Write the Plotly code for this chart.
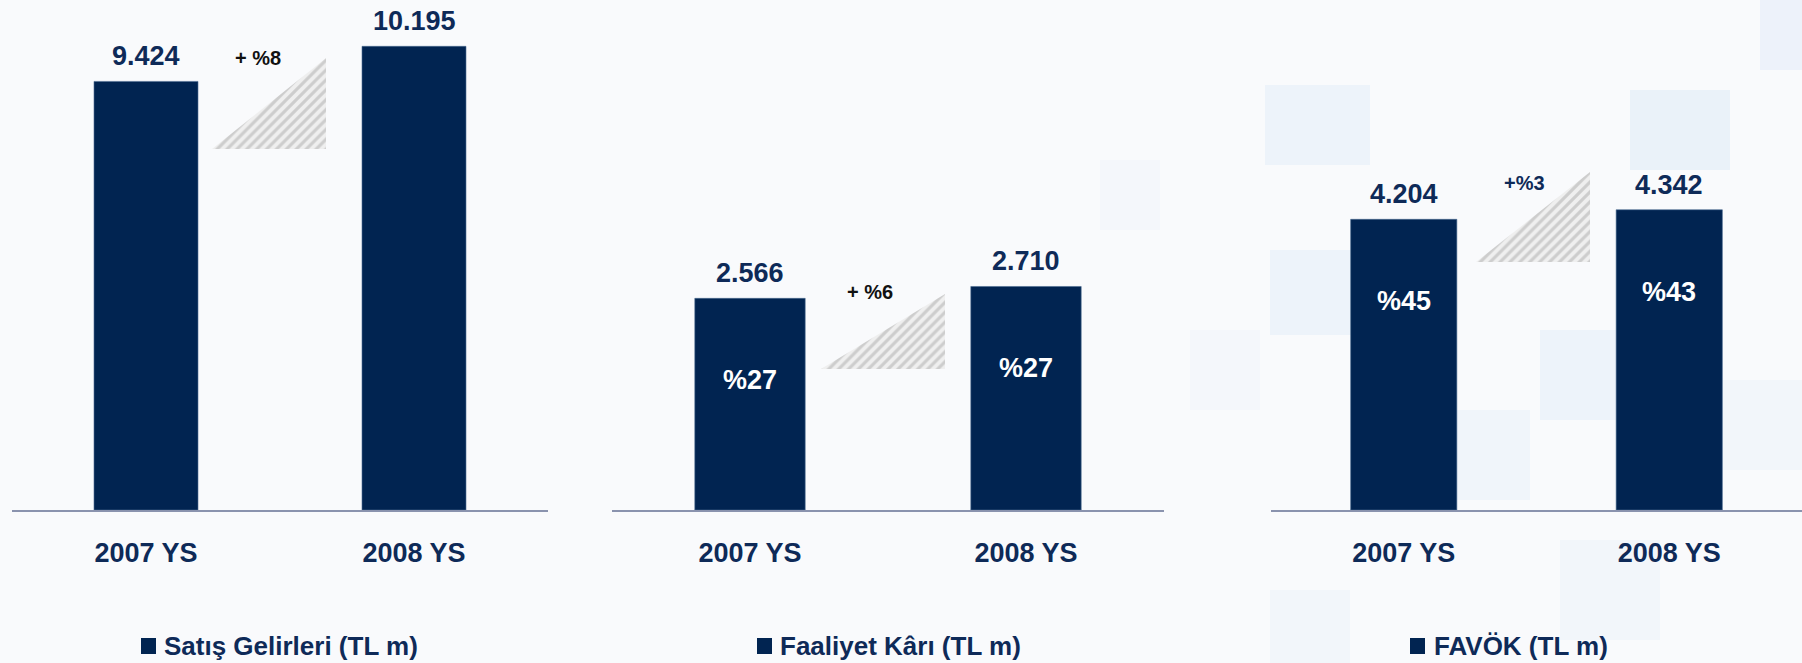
import plotly.graph_objects as go

# ---------------- data ----------------
categories = ["2007 YS", "2008 YS"]
sales = [9424, 10195]
op_profit = [2566, 2710]
ebitda = [4204, 4342]
op_margin = ["%27", "%27"]
ebitda_margin = ["%45", "%43"]
growth_labels = ["+ %8", "+ %6", "+%3"]
panel_titles = ["Satış Gelirleri (TL m)", "Faaliyet Kârı (TL m)", "FAVÖK (TL m)"]

# ---------------- style ----------------
W, H = 1802, 663
NAVY = "#012451"
TXT = "#0e2a58"
FONT = "Liberation Sans"
BASE_PX = 510  # baseline pixel row

def fmt(v):
    return f"{v:,}".replace(",", ".")

panels = [
    dict(values=sales, margins=None, x0=12, x1=548, ymax=11214, width=0.388,
         tri=(212, 326, 58, 149), glabel=(258, 58), gcolor="#111111", leg=(141, 162)),
    dict(values=op_profit, margins=op_margin, x0=612, x1=1164, ymax=6183, width=0.4,
         tri=(821, 945, 294, 369), glabel=(870, 292), gcolor="#111111", leg=(757, 778)),
    dict(values=ebitda, margins=ebitda_margin, x0=1271, x1=1803, ymax=7376, width=0.4,
         tri=(1476, 1590, 172, 262), glabel=(1524, 183), gcolor=TXT, leg=(1410, 1432)),
]

fig = go.Figure()
shapes = []
annotations = []

# faint watermark blocks in the background (decorative)
blobs = [
    (1265, 1370, 85, 165, 0.28), (1630, 1730, 90, 170, 0.38), (1270, 1360, 250, 335, 0.28),
    (1540, 1650, 330, 420, 0.28), (1410, 1530, 410, 500, 0.22), (1760, 1802, 0, 70, 0.32),
    (1100, 1160, 160, 230, 0.1), (1190, 1260, 330, 410, 0.1), (1560, 1660, 540, 640, 0.18),
    (1270, 1350, 590, 663, 0.18), (1700, 1802, 380, 470, 0.18),
]
for (bx0, bx1, by0, by1, op) in blobs:
    shapes.append(dict(type="rect", xref="paper", yref="paper", x0=bx0 / W, x1=bx1 / W,
                       y0=1 - by1 / H, y1=1 - by0 / H,
                       fillcolor=f"rgba(210,228,245,{op})", line=dict(width=0), layer="below"))

ydom0 = (H - BASE_PX) / H
for i, p in enumerate(panels):
    n = "" if i == 0 else str(i + 1)
    xa, ya = "x" + n, "y" + n
    fig.add_trace(go.Bar(
        x=categories, y=p["values"], xaxis=xa, yaxis=ya, width=p["width"],
        marker=dict(color=NAVY, line=dict(color="#4a6a90", width=0.6)),
        hoverinfo="skip", showlegend=False,
    ))
    fig.update_layout(**{
        ("xaxis" + n): dict(domain=[p["x0"] / W, min(p["x1"] / W, 1)], anchor=ya,
                            showline=True, linecolor="#8a93ae", linewidth=2,
                            showgrid=False, zeroline=False, ticks="",
                            ticklabelstandoff=18,
                            tickfont=dict(family=FONT, size=27, color=TXT, weight="bold"),
                            range=[-0.5, 1.5], fixedrange=True),
        ("yaxis" + n): dict(domain=[ydom0, 1], anchor=xa, range=[0, p["ymax"]],
                            visible=False, showgrid=False, zeroline=False, fixedrange=True),
    })
    for j, c in enumerate(categories):
        annotations.append(dict(x=c, y=p["values"][j], xref=xa, yref=ya, text=fmt(p["values"][j]),
                                showarrow=False, yanchor="middle", yshift=25,
                                font=dict(family=FONT, size=27, color=TXT, weight="bold")))
        if p["margins"]:
            annotations.append(dict(x=c, y=p["values"][j], xref=xa, yref=ya, text=p["margins"][j],
                                    showarrow=False, yanchor="middle", yshift=-82,
                                    font=dict(family=FONT, size=27, color="white", weight="bold")))
    # hatched growth triangle (decorative)
    tx0, tx1, ty0, ty1 = p["tri"]
    fig.add_trace(go.Scatter(
        x=[tx0, tx1, tx1, tx0], y=[ty1, ty1, ty0, ty1], xaxis="x4", yaxis="y4",
        mode="lines", line=dict(width=0, color="rgba(0,0,0,0)"), fill="toself",
        fillcolor="rgba(0,0,0,0)",
        fillpattern=dict(shape="/", fgcolor="#acacac", bgcolor="#efefef", size=7, solidity=0.45),
        hoverinfo="skip", showlegend=False,
    ))
    gx, gy = p["glabel"]
    annotations.append(dict(x=gx, y=gy, xref="x4", yref="y4", text=growth_labels[i], showarrow=False,
                            font=dict(family=FONT, size=20, color=p["gcolor"], weight="bold")))
    # legend marker + label
    sx, tx = p["leg"]
    shapes.append(dict(type="rect", xref="x4", yref="y4", x0=sx, x1=sx + 15, y0=638, y1=654,
                       fillcolor=NAVY, line=dict(width=0)))
    annotations.append(dict(x=tx, y=646, xref="x4", yref="y4", text=panel_titles[i], showarrow=False,
                            xanchor="left", yanchor="middle",
                            font=dict(family=FONT, size=26, color=TXT, weight="bold")))

fig.update_layout(
    xaxis4=dict(domain=[0, 1], range=[0, W], visible=False, fixedrange=True, anchor="y4"),
    yaxis4=dict(domain=[0, 1], range=[H, 0], visible=False, fixedrange=True, anchor="x4"),
)

fig.update_layout(
    width=W, height=H, margin=dict(l=0, r=0, t=0, b=0),
    paper_bgcolor="#f9fafc", plot_bgcolor="rgba(0,0,0,0)",
    shapes=shapes, annotations=annotations,
)

fig.write_html("out.html", config={"displayModeBar": False},
               post_script="document.body.style.margin='0';document.body.style.overflow='hidden';")
